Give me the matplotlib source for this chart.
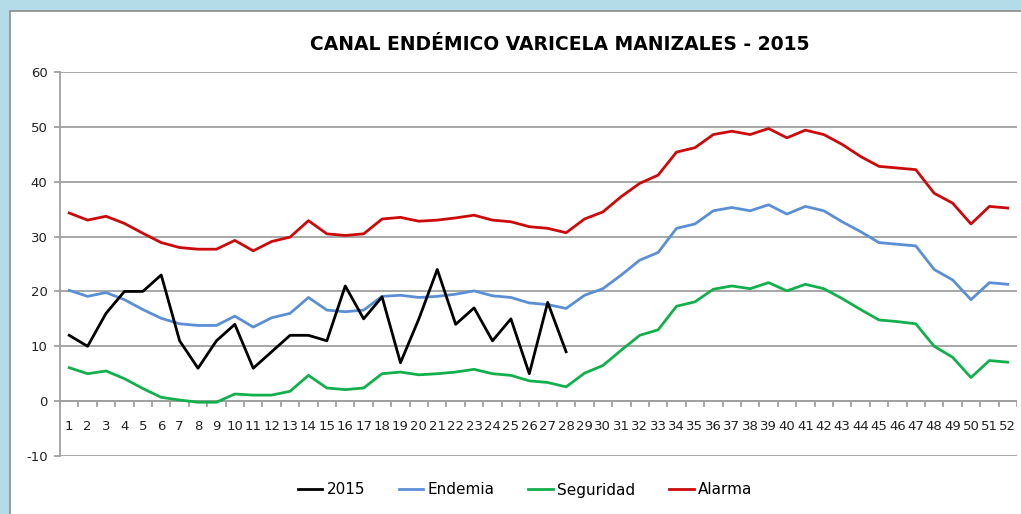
import matplotlib.pyplot as plt
from matplotlib.patches import Rectangle

plt.rcParams['axes.unicode_minus'] = False

# Data
semanas = list(range(1, 53))
casos_2015 = [12, 10, 16, 20, 20, 23, 11, 6, 11, 14, 6, 9, 12, 12, 11, 21, 15, 19, 7, 15,
              24, 14, 17, 11, 15, 5, 18, 9]
endemia = [20.2, 19.1, 19.8, 18.5, 16.7, 15.1, 14.1, 13.8, 13.8, 15.5, 13.5, 15.2, 16.0, 18.9,
           16.6, 16.3, 16.6, 19.1, 19.3, 18.9, 19.1, 19.5, 20.1, 19.2, 18.9, 17.9, 17.6, 16.9,
           19.3, 20.5, 23.0, 25.7, 27.1, 31.5, 32.3, 34.7, 35.3, 34.7, 35.8, 34.1, 35.5, 34.7,
           32.7, 30.9, 28.9, 28.6, 28.3, 24.0, 22.1, 18.5, 21.6, 21.3]
seguridad = [6.1, 5.0, 5.5, 4.1, 2.3, 0.7, 0.2, -0.2, -0.2, 1.3, 1.1, 1.1, 1.8, 4.7,
             2.4, 2.1, 2.4, 5.0, 5.3, 4.8, 5.0, 5.3, 5.8, 5.0, 4.7, 3.7, 3.4, 2.6,
             5.1, 6.5, 9.3, 12.0, 13.0, 17.3, 18.1, 20.4, 21.0, 20.5, 21.6, 20.1, 21.3, 20.5,
             18.7, 16.7, 14.8, 14.5, 14.1, 10.0, 8.0, 4.3, 7.4, 7.1]
alarma = [34.3, 33.0, 33.7, 32.4, 30.6, 28.9, 28.0, 27.7, 27.7, 29.3, 27.4, 29.1, 29.9, 32.9,
          30.5, 30.2, 30.5, 33.2, 33.5, 32.8, 33.0, 33.4, 33.9, 33.0, 32.7, 31.8, 31.5, 30.7,
          33.2, 34.5, 37.3, 39.7, 41.2, 45.4, 46.2, 48.6, 49.2, 48.6, 49.7, 48.0, 49.4, 48.6,
          46.8, 44.6, 42.8, 42.5, 42.2, 37.9, 36.1, 32.3, 35.5, 35.2]

W, H = 1021, 514
fig = plt.figure(figsize=(W / 100, H / 100), dpi=100)
fig.patch.set_facecolor('#b4dce8')

# white chart area with gray border (spreadsheet chart object)
fig.patches.append(Rectangle((9.5 / W, -0.01), 1.02, (H - 10.5) / H + 0.01,
                             transform=fig.transFigure, facecolor='white',
                             edgecolor='#8c8c8c', linewidth=1.2, zorder=-10))

ax = fig.add_axes([60 / W, (H - 456) / H, 957 / W, 384 / H])
ax.set_facecolor('none')

x = [s - 1 for s in semanas]
lw = 2.0
ax.plot(x[:len(casos_2015)], casos_2015, color='black', lw=lw, label='2015', zorder=5)
ax.plot(x, endemia, color='#5a8fd6', lw=lw, label='Endemia', zorder=4)
ax.plot(x, seguridad, color='#12b04c', lw=lw, label='Seguridad', zorder=4)
ax.plot(x, alarma, color='#cc0a0a', lw=lw, label='Alarma', zorder=4)

ax.set_xlim(-0.5, len(semanas) - 0.5)
ax.set_ylim(-10, 60)
ax.set_yticks(range(-10, 61, 10))
ax.grid(axis='y', color='#a0a0a0', lw=1.3)
ax.set_axisbelow(True)

for side in ['top', 'right', 'bottom']:
    ax.spines[side].set_visible(False)
ax.spines['left'].set_color('#a0a0a0')
ax.spines['left'].set_linewidth(1.3)
ax.tick_params(axis='y', length=4, color='#a0a0a0', width=1.3, labelsize=9.5,
               labelcolor='#222222', pad=5)

# category axis crossing at zero
ax.axhline(0, color='#a0a0a0', lw=1.3, zorder=2)
ax.set_xticks([])
for i in range(len(semanas) + 1):
    ax.plot([i - 0.5, i - 0.5], [0, -0.9], color='#a0a0a0', lw=1.3, zorder=2)
for i, s in enumerate(semanas):
    ax.text(i, -4.6, str(s), ha='center', va='center', fontsize=9.5, color='#222222')

fig.text(560 / W, 1 - 45 / H, 'CANAL ENDÉMICO VARICELA MANIZALES - 2015',
         ha='center', va='center', fontsize=13.5, fontweight='bold')

leg = fig.legend(loc='center', bbox_to_anchor=(525 / W, 1 - 490 / H), ncol=4,
                 frameon=False, fontsize=11, handlelength=1.6, handletextpad=0.3,
                 columnspacing=2.2)

fig.savefig('out.png', dpi=100)
